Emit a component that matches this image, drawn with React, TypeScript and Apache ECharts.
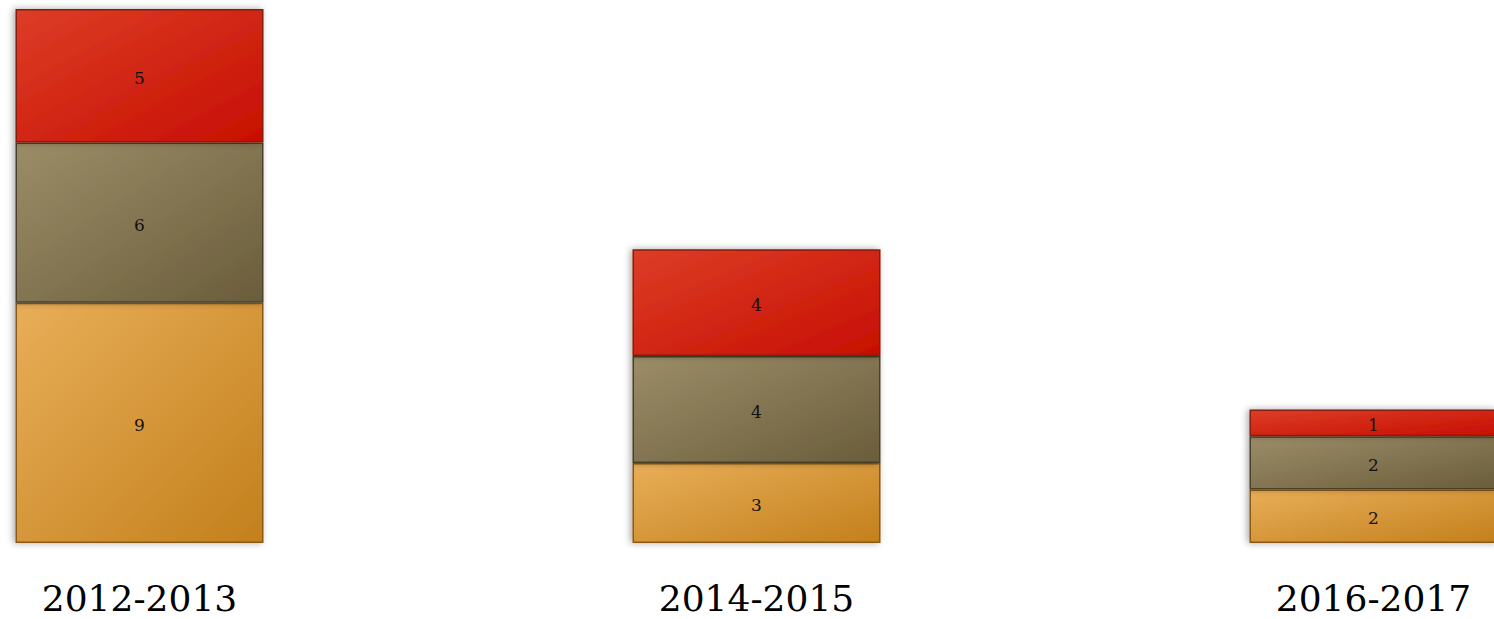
import React, { useEffect, useRef } from "react";
import * as echarts from "echarts";

const categories = ["2012-2013", "2014-2015", "2016-2017"];
const seriesBottom = [9, 3, 2];
const seriesMiddle = [6, 4, 2];
const seriesTop = [5, 4, 1];

const grad = (a: string, b: string) =>
  new echarts.graphic.LinearGradient(0, 0, 1, 1, [
    { offset: 0, color: a },
    { offset: 1, color: b },
  ]);

export default function App() {
  const ref = useRef<HTMLDivElement>(null);
  useEffect(() => {
    if (!ref.current) return;
    const chart = echarts.init(ref.current, undefined, { renderer: "svg" });
    const label = {
      show: true,
      position: "inside" as const,
      color: "#111",
      fontFamily: "DejaVu Serif",
      fontSize: 17,
      offset: [0, 2],
    };
    const mk = (name: string, data: number[], c1: string, c2: string, border: string) => ({
      name,
      type: "bar" as const,
      stack: "total",
      data,
      barWidth: 248,
      label,
      itemStyle: {
        color: grad(c1, c2),
        borderColor: border,
        borderWidth: 1.5,
        shadowColor: "rgba(0,0,0,0.35)",
        shadowBlur: 7,
        shadowOffsetX: -2,
        shadowOffsetY: 0,
      },
    });
    chart.setOption({
      animation: false,
      grid: { left: 0, right: 0, top: 9, bottom: 76 },
      xAxis: {
        type: "category",
        data: categories,
        axisLine: { show: false },
        axisTick: { show: false },
        axisLabel: {
          color: "#000",
          fontFamily: "DejaVu Serif",
          fontSize: 36,
          margin: 37,
        },
      },
      yAxis: {
        type: "value",
        min: 0,
        max: 20,
        show: false,
        splitLine: { show: false },
      },
      series: [
        mk("A", seriesBottom, "#E8AE58", "#C3801C", "#8a5a14"),
        mk("B", seriesMiddle, "#9C8D68", "#6A5D3B", "#4a4028"),
        mk("C", seriesTop, "#DC3D26", "#C70F02", "#8a1a0a"),
      ],
    });
    return () => chart.dispose();
  }, []);
  return (
    <div
      ref={ref}
      style={{ position: "fixed", left: -169.5, top: 0, width: 1851, height: 619, background: "#fff" }}
    />
  );
}
